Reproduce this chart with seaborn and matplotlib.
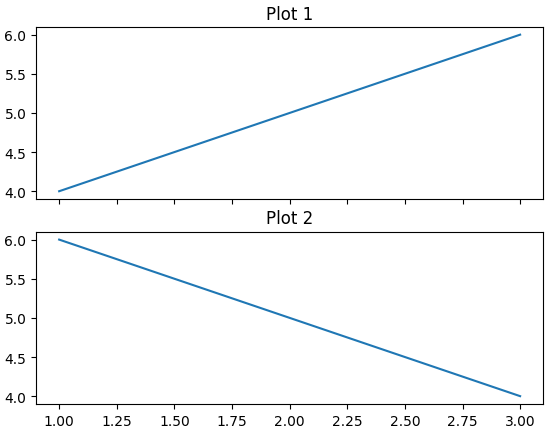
import matplotlib
matplotlib.use('Agg')
import matplotlib.pyplot as plt
import seaborn as sns

x_vals = [1, 2, 3]
plot1_vals = [4, 5, 6]
plot2_vals = [6, 5, 4]

fig, (ax1, ax2) = plt.subplots(2, 1, sharex=True, figsize=(5.47, 4.35), dpi=100)
fig.subplots_adjust(left=0.066, right=0.993, top=0.936, bottom=0.069, hspace=0.19)

sns.lineplot(x=x_vals, y=plot1_vals, ax=ax1)
ax1.set_title('Plot 1')

sns.lineplot(x=x_vals, y=plot2_vals, ax=ax2)
ax2.set_title('Plot 2')

fig.savefig('out.png')
